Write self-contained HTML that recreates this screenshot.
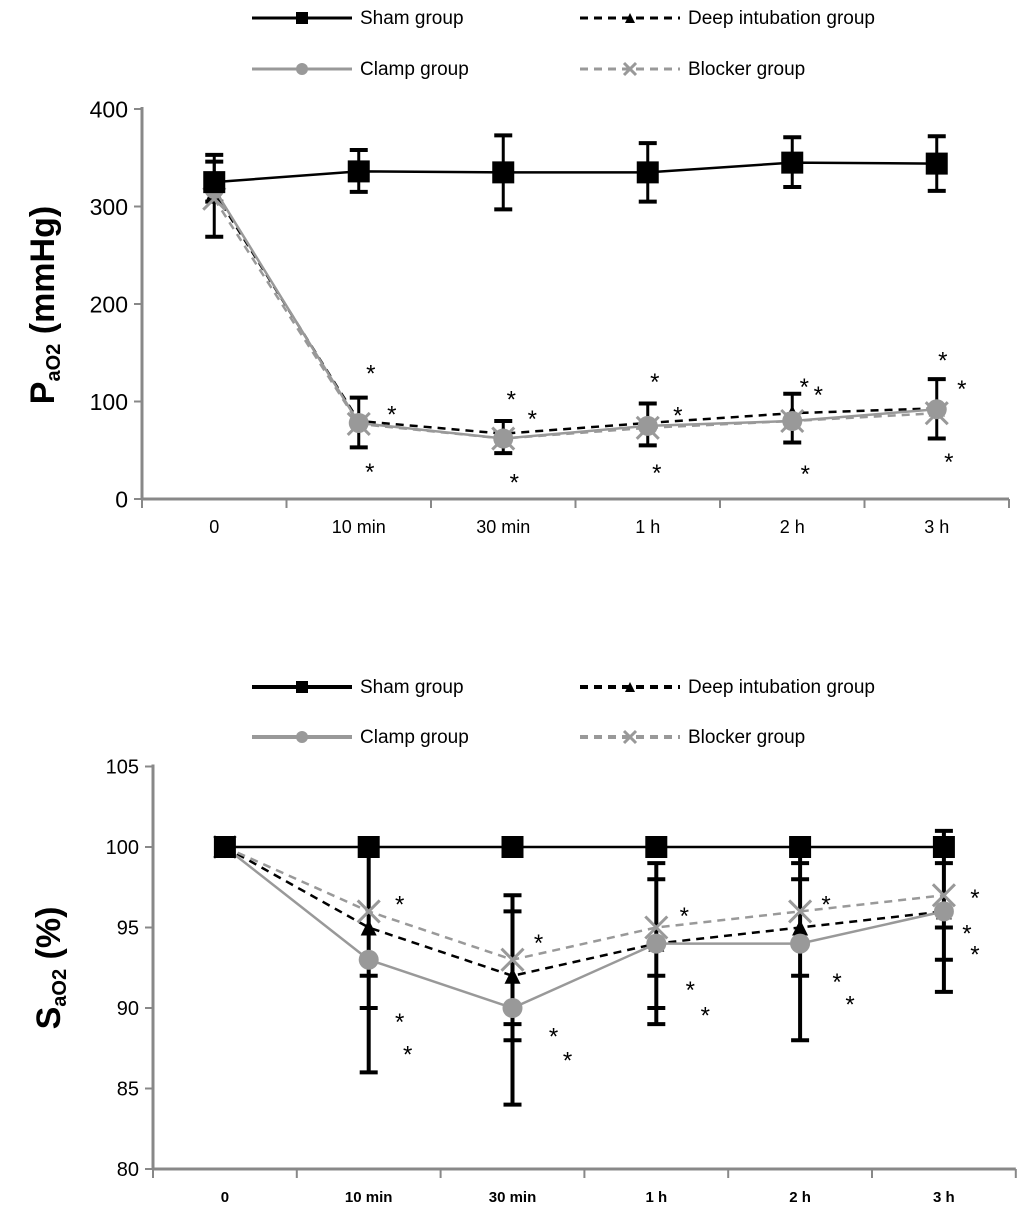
<!DOCTYPE html>
<html><head><meta charset="utf-8"><style>
body{margin:0;background:#fff;font-family:"Liberation Sans",sans-serif}
svg text{font-family:"Liberation Sans",sans-serif}
</style></head><body>
<svg id="s" width="1033" height="1216" viewBox="0 0 1033 1216"></svg>
<script>
const categories=["0","10 min","30 min","1 h","2 h","3 h"];
// top chart (PaO2)
const paSham=[325,336,335,335,345,344];
const paDeep=[315,80,67,78,88,93];
const paClamp=[318,78,62,75,80,92];
const paBlocker=[308,77,62,73,80,88];
const paShamErrHi=[353,358,373,365,371,372];
const paShamErrLo=[305,315,297,305,320,316];
const paLowErrHi=[346,104,80,98,108,123];
const paLowErrLo=[269,53,47,55,58,62];
const paTicks=[0,100,200,300,400];
const paStars=[[1,12,135],[1,33,93],[1,11,34],[2,8,108],[2,29,88],[2,11,23],[3,7,126],[3,30,92],[3,9,33],[4,12,121],[4,26,113],[4,13,32],[5,6,148],[5,25,119],[5,12,44]];
// bottom chart (SaO2)
const saSham=[100,100,100,100,100,100];
const saDeep=[100,95,92,94,95,96];
const saClamp=[100,93,90,94,94,96];
const saBlocker=[100,96,93,95,96,97];
const saErrHi=[100,100,97,99,100,101];
const saErrLo=[100,86,84,89,88,91];
const saCaps=[[],[92,90,86],[97,96,89,88,84],[99,98,92,90,89],[99,98,92,88],[101,99,95,93,91]];
const saTicks=[80,85,90,95,100,105];
const saStars=[[1,31,96.8],[1,31,89.5],[1,39,87.5],[2,26,94.4],[2,41,88.6],[2,55,87.1],[3,28,96.1],[3,34,91.5],[3,49,89.9],[4,26,96.8],[4,37,92],[4,50,90.6],[5,31,97.2],[5,23,95],[5,31,93.7]];

const S=document.getElementById('s');const NS="http://www.w3.org/2000/svg";
function el(t,a,name,txt){const e=document.createElementNS(NS,t);for(const k in a)e.setAttribute(k,a[k]);


if(txt!==undefined)e.textContent=txt;S.appendChild(e);return e;}
function marker(type,x,y,name,size){
 if(type==='sq')el('rect',{x:x-size/2,y:y-size/2,width:size,height:size,fill:'#000'},name);
 else if(type==='tri')el('polygon',{points:`${x},${y-size/2} ${x-size/2},${y+size/2} ${x+size/2},${y+size/2}`,fill:'#000'},name);
 else if(type==='dot')el('circle',{cx:x,cy:y,r:size/2,fill:'#999'},name);
 else if(type==='x')el('path',{d:`M${x-size/2},${y-size/2}L${x+size/2},${y+size/2}M${x+size/2},${y-size/2}L${x-size/2},${y+size/2}`,stroke:'#999','stroke-width':3,fill:'none'},name);
}
function legend(y1,y2,w){
 const items=[[252,y1,'Sham group','#000','','sq'],[580,y1,'Deep intubation group','#000','8 6','tri'],[252,y2,'Clamp group','#999','','dot'],[580,y2,'Blocker group','#999','8 6','x']];
 items.forEach(([x,y,t,c,d,m])=>{
  el('line',{x1:x,y1:y,x2:x+100,y2:y,stroke:c,'stroke-width':w,'stroke-dasharray':d},'legend-line-'+t.split(' ')[0].toLowerCase());
  marker(m,x+50,y,'legend-marker-'+t.split(' ')[0].toLowerCase(),m==='tri'?10:12);
  el('text',{x:x+108,y:y+6,'font-size':19,fill:'#000'},'legend-label-'+t.split(' ')[0].toLowerCase(),t);
 });
}
function chart(o){
 const X=i=>o.x0+o.step*(i+0.5);const Y=v=>o.yb-(v-o.vmin)*o.ppu;
 el('line',{x1:o.x0,y1:Y(o.ticks[o.ticks.length-1])-2,x2:o.x0,y2:o.yb,stroke:'#888','stroke-width':3},o.p+'y-axis');
 el('line',{x1:o.x0,y1:o.yb,x2:o.x0+o.step*6,y2:o.yb,stroke:'#888','stroke-width':3},o.p+'x-axis');
 o.ticks.forEach(t=>{el('line',{x1:o.x0-8,y1:Y(t),x2:o.x0,y2:Y(t),stroke:'#888','stroke-width':2},o.p+'y-tick');
  el('text',{x:o.x0-14,y:Y(t)+o.yfs*0.36,'text-anchor':'end','font-size':o.yfs},o.p+'y-tick-label',t);});
 for(let i=0;i<=6;i++)el('line',{x1:o.x0+o.step*i,y1:o.yb,x2:o.x0+o.step*i,y2:o.yb+9,stroke:'#888','stroke-width':2},o.p+'x-tick');
 categories.forEach((c,i)=>el('text',{x:X(i),y:o.yb+o.xdy,'text-anchor':'middle','font-size':o.xfs,'font-weight':o.xfw},o.p+'x-tick-label',c));
 o.err(X,Y);
 const series=[[o.deep,'#000','8 6','tri','deep'],[o.blocker,'#999','8 6','x','blocker'],[o.clamp,'#999','','dot','clamp'],[o.sham,'#000','','sq','sham']];
 series.forEach(([d,c,da,m,n])=>{
  el('polyline',{points:d.map((v,i)=>X(i)+','+Y(v)).join(' '),fill:'none',stroke:c,'stroke-width':o.lw,'stroke-dasharray':da},o.p+n+'-line');
  d.forEach((v,i)=>marker(m,X(i),Y(v),o.p+n+'-point',m==='tri'?16:m==='x'?22:m==='dot'?20:22));
 });
 o.stars.forEach(([i,dx,v])=>el('text',{x:X(i)+dx,y:Y(v)+14,'text-anchor':'middle','font-size':24},o.p+'significance-star','*'));
}
legend(18,69,3);
chart({p:'pao2-',x0:142,step:144.5,yb:499,vmin:0,ppu:0.975,ticks:paTicks,yfs:23,xfs:18,xfw:'normal',xdy:34,lw:2.5,
 sham:paSham,deep:paDeep,clamp:paClamp,blocker:paBlocker,stars:paStars,
 err:(X,Y)=>{[[paShamErrHi,paShamErrLo],[paLowErrHi,paLowErrLo]].forEach(([h,l])=>h.forEach((v,i)=>{
  el('line',{x1:X(i),y1:Y(v),x2:X(i),y2:Y(l[i]),stroke:'#000','stroke-width':3},'pao2-error-bar');
  [v,l[i]].forEach(c=>el('line',{x1:X(i)-9,y1:Y(c),x2:X(i)+9,y2:Y(c),stroke:'#000','stroke-width':4},'pao2-error-cap'));}));}});
el('text',{transform:'translate(54,305) rotate(-90)','text-anchor':'middle','font-size':34,'font-weight':'bold'},'pao2-y-axis-title').innerHTML='P<tspan font-size="20" dy="6">aO2</tspan><tspan dy="-6"> (mmHg)</tspan>';
legend(687,737,4);
chart({p:'sao2-',x0:153,step:143.8,yb:1169,vmin:80,ppu:16.1,ticks:saTicks,yfs:20,xfs:15,xfw:'bold',xdy:33,lw:2.5,
 sham:saSham,deep:saDeep,clamp:saClamp,blocker:saBlocker,stars:saStars,
 err:(X,Y)=>{saErrHi.forEach((v,i)=>{if(v===saErrLo[i])return;
  el('line',{x1:X(i),y1:Y(v),x2:X(i),y2:Y(saErrLo[i]),stroke:'#000','stroke-width':4},'sao2-error-bar');
  saCaps[i].forEach(c=>el('line',{x1:X(i)-9,y1:Y(c),x2:X(i)+9,y2:Y(c),stroke:'#000','stroke-width':4},'sao2-error-cap'));});}});
el('text',{transform:'translate(60,968) rotate(-90)','text-anchor':'middle','font-size':34,'font-weight':'bold'},'sao2-y-axis-title').innerHTML='S<tspan font-size="20" dy="6">aO2</tspan><tspan dy="-6"> (%)</tspan>';
</script>
</body></html>
